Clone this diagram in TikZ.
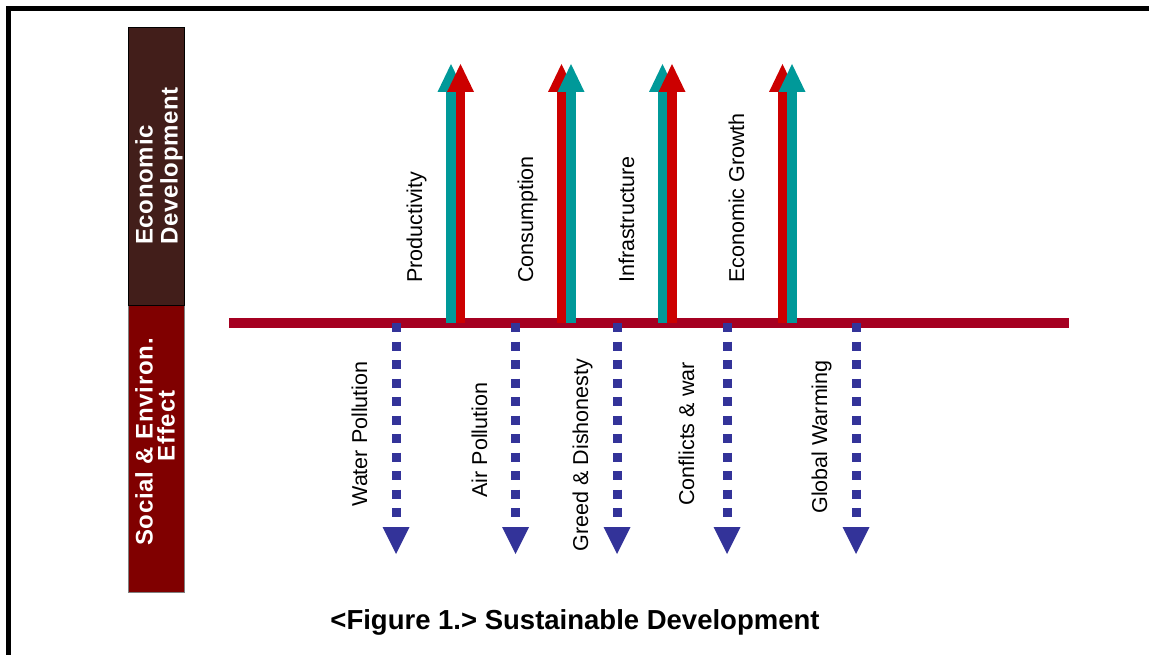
\documentclass[tikz,border=0pt]{standalone}
\usepackage{fontspec}
\setmainfont{Liberation Sans}
\usepackage{tikz}

\definecolor{ecobrown}{RGB}{66,30,26}
\definecolor{socred}{RGB}{128,0,0}
\definecolor{barred}{RGB}{165,0,33}
\definecolor{upred}{RGB}{204,0,0}
\definecolor{upteal}{RGB}{0,153,153}
\definecolor{downblue}{RGB}{51,51,153}

\begin{document}
\begin{tikzpicture}[x=1pt,y=-1pt]
	\tikzstyle{every node}+=[inner sep=0pt]
	\tikzstyle{sidebox}=[minimum width=56pt]
	\tikzstyle{boxlbl}=[rotate=90,text=white,font=\bfseries\fontsize{24}{25}\selectfont\addfontfeatures{LetterSpace=3}]
	\tikzstyle{lbl}=[rotate=90,font=\fontsize{21.5}{21.5}\selectfont]
	\tikzstyle{upshaft}=[line width=9.5]
	\tikzstyle{downdots}=[downblue,line width=9,dash pattern=on 9pt off 9.5pt]
	\useasboundingbox (0,0) rectangle (1149,655);
	\draw [black,line width=5.5] (8.7,665) -- (8.7,8.7) -- (1160,8.7);
	\node (social) [sidebox,fill=socred,draw=gray,minimum height=287pt] at (156,448.5) {};
	\node (econ) [sidebox,fill=ecobrown,draw=black,minimum height=278pt] at (156,166) {};
	\node (econlbl) [boxlbl,align=left] at (159,166) {Economic\\Development};
	\node (soclbl) [boxlbl,align=center,font=\bfseries\fontsize{24}{22}\selectfont\addfontfeatures{LetterSpace=3}] at (155,442) {Social \& Environ.\\\hspace*{32pt}Effect};
	\coordinate (barL) at (229,323);
	\coordinate (barR) at (1069,323);
	\draw [barred,line width=10] (barL) -- (barR);
	\coordinate (t1b) at (451,323);
	\coordinate (t1h) at (451,92);
	\coordinate (r1b) at (460.5,323);
	\coordinate (r1h) at (460.5,92);
	\coordinate (r2b) at (561.5,323);
	\coordinate (r2h) at (561.5,92);
	\coordinate (t2b) at (571,323);
	\coordinate (t2h) at (571,92);
	\coordinate (t3b) at (662.5,323);
	\coordinate (t3h) at (662.5,92);
	\coordinate (r3b) at (672,323);
	\coordinate (r3h) at (672,92);
	\coordinate (r4b) at (782.5,323);
	\coordinate (r4h) at (782.5,92);
	\coordinate (t4b) at (792,323);
	\coordinate (t4h) at (792,92);
	\draw [upshaft,upteal] (t1b) -- (t1h);
	\fill [upteal] (t1h) ++(-13.5,0) -- ++(13.5,-28) -- ++(13.5,28) -- cycle;
	\draw [upshaft,upred] (r1b) -- (r1h);
	\fill [upred] (r1h) ++(-13.5,0) -- ++(13.5,-28) -- ++(13.5,28) -- cycle;
	\draw [upshaft,upred] (r2b) -- (r2h);
	\fill [upred] (r2h) ++(-13.5,0) -- ++(13.5,-28) -- ++(13.5,28) -- cycle;
	\draw [upshaft,upteal] (t2b) -- (t2h);
	\fill [upteal] (t2h) ++(-13.5,0) -- ++(13.5,-28) -- ++(13.5,28) -- cycle;
	\draw [upshaft,upteal] (t3b) -- (t3h);
	\fill [upteal] (t3h) ++(-13.5,0) -- ++(13.5,-28) -- ++(13.5,28) -- cycle;
	\draw [upshaft,upred] (r3b) -- (r3h);
	\fill [upred] (r3h) ++(-13.5,0) -- ++(13.5,-28) -- ++(13.5,28) -- cycle;
	\draw [upshaft,upred] (r4b) -- (r4h);
	\fill [upred] (r4h) ++(-13.5,0) -- ++(13.5,-28) -- ++(13.5,28) -- cycle;
	\draw [upshaft,upteal] (t4b) -- (t4h);
	\fill [upteal] (t4h) ++(-13.5,0) -- ++(13.5,-28) -- ++(13.5,28) -- cycle;
	\node (prod) [lbl,anchor=base west] at (422,283) {Productivity};
	\node (cons) [lbl,anchor=base west] at (533,283) {Consumption};
	\node (infra) [lbl,anchor=base west] at (634,283) {Infrastructure};
	\node (growth) [lbl,anchor=base west] at (744,283) {Economic Growth};
	\coordinate (d1a) at (396,323);
	\coordinate (d1b) at (396,517);
	\coordinate (d1h) at (396,527);
	\coordinate (d2a) at (515.5,323);
	\coordinate (d2b) at (515.5,517);
	\coordinate (d2h) at (515.5,527);
	\coordinate (d3a) at (617,323);
	\coordinate (d3b) at (617,517);
	\coordinate (d3h) at (617,527);
	\coordinate (d4a) at (727,323);
	\coordinate (d4b) at (727,517);
	\coordinate (d4h) at (727,527);
	\coordinate (d5a) at (856,323);
	\coordinate (d5b) at (856,517);
	\coordinate (d5h) at (856,527);
	\draw [downdots] (d1a) -- (d1b);
	\fill [downblue] (d1h) ++(-13.5,0) -- ++(13.5,27) -- ++(13.5,-27) -- cycle;
	\draw [downdots] (d2a) -- (d2b);
	\fill [downblue] (d2h) ++(-13.5,0) -- ++(13.5,27) -- ++(13.5,-27) -- cycle;
	\draw [downdots] (d3a) -- (d3b);
	\fill [downblue] (d3h) ++(-13.5,0) -- ++(13.5,27) -- ++(13.5,-27) -- cycle;
	\draw [downdots] (d4a) -- (d4b);
	\fill [downblue] (d4h) ++(-13.5,0) -- ++(13.5,27) -- ++(13.5,-27) -- cycle;
	\draw [downdots] (d5a) -- (d5b);
	\fill [downblue] (d5h) ++(-13.5,0) -- ++(13.5,27) -- ++(13.5,-27) -- cycle;
	\node (water) [lbl,anchor=base] at (367,434) {Water Pollution};
	\node (air) [lbl,anchor=base] at (487,440) {Air Pollution};
	\node (greed) [lbl,anchor=base] at (588,455) {Greed \& Dishonesty};
	\node (war) [lbl,anchor=base] at (694,434) {Conflicts \& war};
	\node (warming) [lbl,anchor=base] at (827,437) {Global Warming};
	\node (caption) [anchor=base,font=\bfseries\fontsize{27.5}{27.5}\selectfont] at (575,629) {<Figure 1.> Sustainable Development};
\end{tikzpicture}
\end{document}
